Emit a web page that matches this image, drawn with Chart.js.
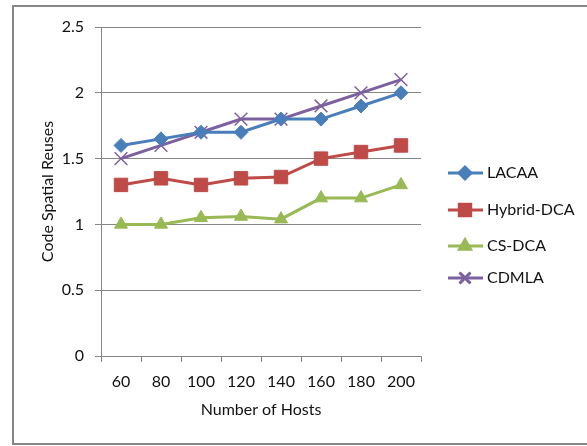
<!DOCTYPE html>
<html>
<head>
<meta charset="utf-8">
<script src="https://cdn.jsdelivr.net/npm/chart.js@4/dist/chart.umd.min.js"></script>
<style>
  html, body { margin: 0; padding: 0; background: #fff; }
  #wrap { width: 587px; height: 446px; }
</style>
</head>
<body>
<div id="wrap"><canvas id="chart" width="587" height="446"></canvas></div>
<script>
var hosts = ["60", "80", "100", "120", "140", "160", "180", "200"];
var seriesNames = ["LACAA", "Hybrid-DCA", "CS-DCA", "CDMLA"];
var lacaa = [1.6, 1.65, 1.7, 1.7, 1.8, 1.8, 1.9, 2.0];
var hybridDca = [1.3, 1.35, 1.3, 1.35, 1.36, 1.5, 1.55, 1.6];
var csDca = [1.0, 1.0, 1.05, 1.06, 1.04, 1.2, 1.2, 1.3];
var cdmla = [1.5, 1.6, 1.7, 1.8, 1.8, 1.9, 2.0, 2.1];
var yTicks = [0, 0.5, 1, 1.5, 2, 2.5];

var FONT = "Lato, 'Open Sans', sans-serif";

// marker settings per series
var styles = [
  { color: "#4A7EBB", point: "rectRot", radius: 7, bw: 1 },
  { color: "#BE4B48", point: "rect", radius: 9.5, bw: 1 },
  { color: "#98B954", point: "triangle", radius: 7.5, bw: 1 },
  { color: "#7D60A0", point: "crossRot", radius: 9, bw: 1.5 },
];

var allData = [lacaa, hybridDca, csDca, cdmla];

var datasets = allData.map(function (d, i) {
  var s = styles[i];
  return {
    label: seriesNames[i],
    data: d,
    borderColor: s.color,
    backgroundColor: s.color,
    borderWidth: 3,
    pointStyle: s.point,
    pointRadius: s.radius,
    pointBorderWidth: s.bw,
    pointBorderColor: s.color,
    pointBackgroundColor: s.color,
    tension: 0,
  };
});

// outer frame + hand-made legend (Excel style)
var framePlugin = {
  id: "frame",
  afterDraw: function (chart) {
    var ctx = chart.ctx;
    ctx.save();
    ctx.strokeStyle = "#868686";
    ctx.lineWidth = 2;
    ctx.strokeRect(13, 6, 600, 438);

    var ys = [173, 210, 246, 278];
    chart.data.datasets.forEach(function (ds, i) {
      var y = ys[i];
      ctx.strokeStyle = ds.borderColor;
      ctx.lineWidth = 3;
      ctx.beginPath();
      ctx.moveTo(448, y);
      ctx.lineTo(483, y);
      ctx.stroke();
      Chart.helpers.drawPoint(ctx, {
        pointStyle: ds.pointStyle,
        radius: ds.pointRadius * 0.85,
        borderWidth: ds.pointBorderWidth,
      }, 465, y);
      ctx.fillStyle = ds.borderColor;
      ctx.strokeStyle = ds.borderColor;
      ctx.lineWidth = ds.pointBorderWidth;
      ctx.fill();
      ctx.stroke();
      ctx.fillStyle = "#111";
      ctx.font = "16px " + FONT;
      ctx.textAlign = "left";
      ctx.textBaseline = "middle";
      ctx.fillText(ds.label, 487, y);
    });
    ctx.restore();
  },
};

new Chart(document.getElementById("chart"), {
  type: "line",
  data: { labels: hosts, datasets: datasets },
  plugins: [framePlugin],
  options: {
    responsive: false,
    animation: false,
    layout: { padding: { left: 0, top: 27, right: 166, bottom: 0 } },
    plugins: { legend: { display: false }, tooltip: { enabled: false } },
    scales: {
      x: {
        offset: true,
        afterFit: function (s) { s.height = 90; },
        grid: { display: true, drawOnChartArea: false, color: "#868686", tickLength: 6, offset: true },
        border: { color: "#868686", width: 1 },
        ticks: { color: "#111", font: { family: FONT, size: 16 }, padding: 10, maxRotation: 0 },
        title: { display: true, text: "Number of Hosts", color: "#111", font: { family: FONT, size: 16 }, padding: { top: 0, bottom: 27 } },
      },
      y: {
        min: 0,
        max: 2.5,
        afterFit: function (s) { s.width = 101; },
        afterBuildTicks: function (s) { s.ticks = yTicks.map(function (v) { return { value: v }; }); },
        grid: { color: "#868686", tickLength: 6 },
        border: { color: "#868686", width: 1 },
        ticks: { color: "#111", font: { family: FONT, size: 16 }, padding: 11, callback: function (v) { return String(v); } },
        title: { display: true, text: "Code Spatial Reuses", color: "#111", font: { family: FONT, size: 16 }, padding: { top: 38, bottom: 0 } },
      },
    },
  },
});
</script>
</body>
</html>
